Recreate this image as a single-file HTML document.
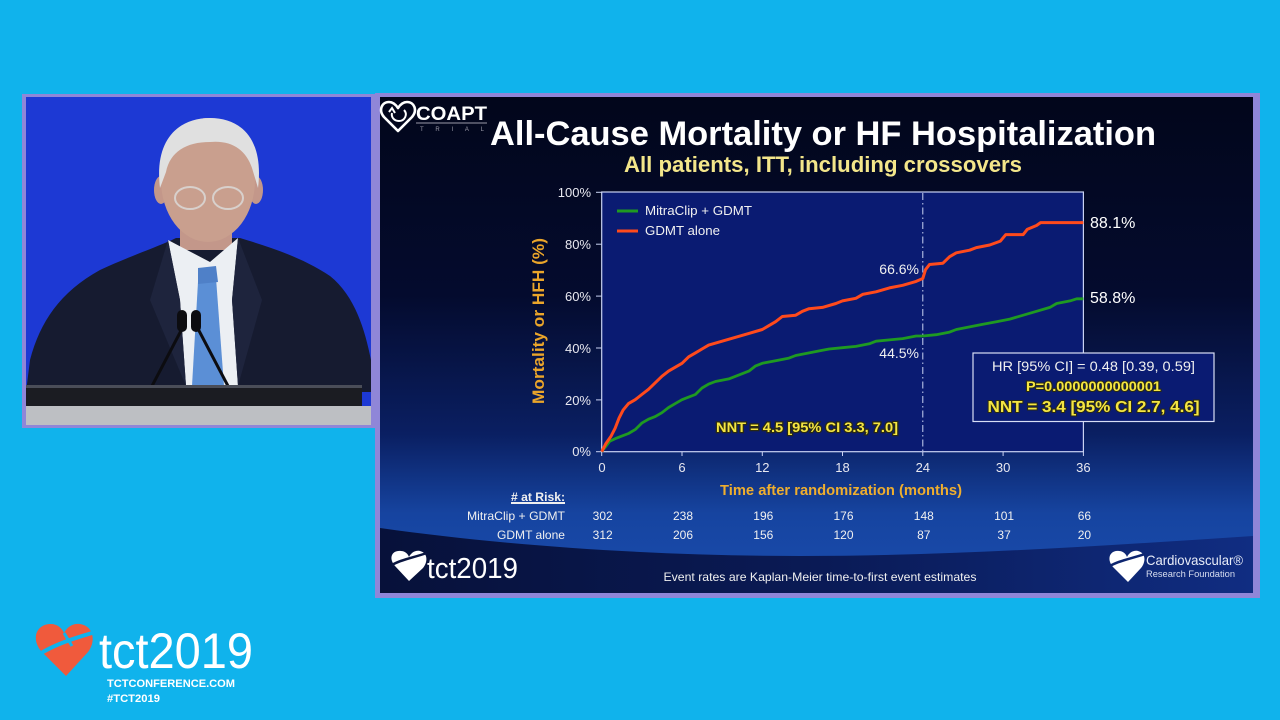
<!DOCTYPE html>
<html><head><meta charset="utf-8">
<style>
html,body{margin:0;padding:0;background:#10b3ec;width:1280px;height:720px;overflow:hidden;}
svg{display:block;}
text{font-family:"Liberation Sans",Arial,sans-serif;}
</style></head><body>
<svg width="1280" height="720" viewBox="0 0 1280 720" xmlns="http://www.w3.org/2000/svg">
<defs>
 <linearGradient id="slbg" x1="0" y1="97" x2="0" y2="593" gradientUnits="userSpaceOnUse">
  <stop offset="0" stop-color="#02061b"/>
  <stop offset="0.4" stop-color="#040b2e"/>
  <stop offset="0.68" stop-color="#0a1f62"/>
  <stop offset="0.84" stop-color="#1644a0"/>
  <stop offset="1" stop-color="#1a4cae"/>
 </linearGradient>
 <linearGradient id="band" x1="380" y1="0" x2="1253" y2="0" gradientUnits="userSpaceOnUse">
  <stop offset="0" stop-color="#07113a"/>
  <stop offset="0.5" stop-color="#0a1a55"/>
  <stop offset="1" stop-color="#102d82"/>
 </linearGradient>
 <clipPath id="vid"><rect x="26" y="97" width="345" height="328"/></clipPath>
</defs>

<!-- background -->
<rect x="0" y="0" width="1280" height="720" fill="#10b3ec"/>

<!-- video frame -->
<rect x="22" y="94" width="354" height="334" fill="#8f86d8"/>
<g clip-path="url(#vid)">
 <rect x="26" y="97" width="345" height="328" fill="#1d39d4"/>
 <!-- suit -->
 <path d="M26,392 L30,360 C40,322 60,292 100,270 C130,256 160,246 176,238 L240,238 C266,246 300,256 330,276 C355,296 365,330 371,360 L371,392 Z" fill="#161b30"/>
 <!-- neck -->
 <rect x="180" y="215" width="52" height="35" fill="#c3978a"/>
 <!-- shirt -->
 <path d="M168,240 L180,300 L186,386 L238,386 L232,300 L238,238 L210,262 Z" fill="#eceff3"/>
 <!-- tie -->
 <path d="M198,282 L216,278 L224,386 L192,386 Z" fill="#5b8fd6"/>
 <path d="M198,268 L216,266 L218,282 L198,284 Z" fill="#4f80c8"/>
 <!-- lapels -->
 <path d="M168,240 L150,300 L186,386 L180,300 Z" fill="#1e243d"/>
 <path d="M238,238 L262,300 L238,386 L232,300 Z" fill="#1e243d"/>
 <!-- head -->
 <ellipse cx="161" cy="190" rx="7" ry="14" fill="#c3978a"/>
 <ellipse cx="256" cy="190" rx="7" ry="14" fill="#c3978a"/>
 <ellipse cx="208" cy="180" rx="47" ry="62" fill="#c99f8e"/>
 <path d="M160,188 C154,140 178,118 210,118 C242,118 264,140 258,188 L252,168 C246,150 232,140 210,142 C186,142 170,152 166,172 Z" fill="#e0e0e0"/>
 <ellipse cx="190" cy="198" rx="15" ry="11" fill="none" stroke="#d8d0cc" stroke-width="2"/>
 <ellipse cx="228" cy="198" rx="15" ry="11" fill="none" stroke="#d8d0cc" stroke-width="2"/>
 <!-- mics -->
 <path d="M184,325 L152,386" stroke="#0c0c10" stroke-width="3" fill="none"/>
 <path d="M196,325 L228,386" stroke="#0c0c10" stroke-width="3" fill="none"/>
 <rect x="177" y="310" width="10" height="22" rx="5" fill="#0c0c10"/>
 <rect x="191" y="310" width="10" height="22" rx="5" fill="#0c0c10"/>
 <!-- podium -->
 <rect x="26" y="385" width="336" height="22" fill="#1b1c22"/>
 <rect x="26" y="385" width="336" height="3" fill="#4a4d58"/>
 <rect x="26" y="406" width="345" height="19" fill="#bdbfc3"/>
</g>

<!-- slide frame -->
<rect x="375" y="93" width="885" height="505" fill="#8f86d8"/>
<rect x="380" y="97" width="873" height="496" fill="url(#slbg)"/>
<path d="M380,528 C500,545 650,556 800,556 C950,556 1100,546 1253,536 L1253,593 L380,593 Z" fill="url(#band)"/>

<!-- COAPT logo -->
<path d="M398,131 L384,117 C378,110 382,102 389,102 C393,102 396,105 398,108 C400,105 403,102 407,102 C414,102 418,110 412,117 Z" fill="none" stroke="#fff" stroke-width="2.6" stroke-linejoin="round"/>
<path d="M404,110 C408,114 405,121 399,121 C394,121 391,117 392,113" fill="none" stroke="#fff" stroke-width="2"/>
<path d="M389,112 L392,108 L395,113" fill="none" stroke="#fff" stroke-width="2"/>
<text x="416" y="120" font-size="19" font-weight="bold" fill="#fff" textLength="71" lengthAdjust="spacingAndGlyphs">COAPT</text>
<line x1="416" y1="123" x2="487" y2="123" stroke="#9a9aa8" stroke-width="1"/>
<text x="420" y="131" font-size="6" fill="#9a9aa8" textLength="64" lengthAdjust="spacing">TRIAL</text>

<!-- Title -->
<text x="823" y="145" font-size="34" font-weight="bold" fill="#ffffff" text-anchor="middle" textLength="666" lengthAdjust="spacingAndGlyphs">All-Cause Mortality or HF Hospitalization</text>
<text x="823" y="172" font-size="22" font-weight="bold" fill="#f3e68a" text-anchor="middle" textLength="398" lengthAdjust="spacingAndGlyphs">All patients, ITT, including crossovers</text>

<!-- plot area -->
<rect x="601.7" y="192" width="481.7" height="259.7" fill="#0a1b72" stroke="#c9d2f2" stroke-width="1.2"/>
<!-- y ticks -->
<g stroke="#c9d2f2" stroke-width="1">
 <line x1="596" y1="192.3" x2="601.7" y2="192.3"/>
 <line x1="596" y1="244.2" x2="601.7" y2="244.2"/>
 <line x1="596" y1="296.1" x2="601.7" y2="296.1"/>
 <line x1="596" y1="348" x2="601.7" y2="348"/>
 <line x1="596" y1="399.9" x2="601.7" y2="399.9"/>
 <line x1="596" y1="451.7" x2="601.7" y2="451.7"/>
 <line x1="601.7" y1="451.7" x2="601.7" y2="456"/>
 <line x1="682" y1="451.7" x2="682" y2="456"/>
 <line x1="762.3" y1="451.7" x2="762.3" y2="456"/>
 <line x1="842.5" y1="451.7" x2="842.5" y2="456"/>
 <line x1="922.8" y1="451.7" x2="922.8" y2="456"/>
 <line x1="1003.1" y1="451.7" x2="1003.1" y2="456"/>
 <line x1="1083.4" y1="451.7" x2="1083.4" y2="456"/>
</g>
<!-- y labels -->
<g font-size="13" fill="#e8e8f0" text-anchor="end">
 <text x="591" y="197">100%</text>
 <text x="591" y="249">80%</text>
 <text x="591" y="301">60%</text>
 <text x="591" y="353">40%</text>
 <text x="591" y="405">20%</text>
 <text x="591" y="456">0%</text>
</g>
<!-- x labels -->
<g font-size="13" fill="#e8e8f0" text-anchor="middle">
 <text x="602" y="472">0</text>
 <text x="682" y="472">6</text>
 <text x="762.3" y="472">12</text>
 <text x="842.5" y="472">18</text>
 <text x="922.8" y="472">24</text>
 <text x="1003.1" y="472">30</text>
 <text x="1083.4" y="472">36</text>
</g>
<text x="841" y="495" font-size="15" font-weight="bold" fill="#efae2e" text-anchor="middle" textLength="242" lengthAdjust="spacingAndGlyphs">Time after randomization (months)</text>
<text transform="translate(544,321) rotate(-90)" font-size="17" font-weight="bold" fill="#eaa52a" text-anchor="middle" textLength="166" lengthAdjust="spacingAndGlyphs">Mortality or HFH (%)</text>

<!-- dashed line at 24 -->
<line x1="922.8" y1="193" x2="922.8" y2="451" stroke="#c9d2f2" stroke-width="1" stroke-dasharray="7,3,1.5,3"/>

<!-- legend -->
<line x1="617" y1="211" x2="638" y2="211" stroke="#1f9a22" stroke-width="3"/>
<line x1="617" y1="231" x2="638" y2="231" stroke="#ff4a1c" stroke-width="3"/>
<text x="645" y="215" font-size="13" fill="#f0f0f0" textLength="107" lengthAdjust="spacingAndGlyphs">MitraClip + GDMT</text>
<text x="645" y="235" font-size="13" fill="#f0f0f0" textLength="75" lengthAdjust="spacingAndGlyphs">GDMT alone</text>

<!-- curves -->
<polyline fill="none" stroke="#1f9a22" stroke-width="2.8" stroke-linejoin="round" points="601.7,451.7 605.7,446.5 609.7,441.3 615.1,438.7 621.8,436.1 628.5,433.5 635.2,429.6 641.8,423.1 648.5,419.2 655.2,416.6 661.9,412.7 668.6,407.5 675.3,403.6 682,399.7 688.7,397.1 695.4,394.5 702,388 708.7,384.1 715.4,381.5 728.8,378.9 735.5,376.3 742.2,373.7 748.9,371.1 755.6,365.9 762.3,363.3 775.6,360.7 789,358.1 795.7,355.5 809.1,352.9 822.5,350.3 829.2,349 842.5,347.7 855.9,346.4 869.3,343.8 876,341.2 889.4,339.9 902.7,338.6 916.1,336 922.8,336 936.2,334.7 949.6,332.1 956.3,329.5 969.6,326.9 983,324.3 996.4,321.7 1009.8,319.1 1023.2,315.2 1036.5,311.3 1049.9,307.4 1056.6,303.5 1070,300.9 1076.7,298.8 1083.4,298.8"/>
<polyline fill="none" stroke="#ff4a1c" stroke-width="3" stroke-linejoin="round" points="601.7,451.7 605.7,443.9 611.1,436.1 615.1,428.3 619.1,417.9 623.1,410.1 628.5,403.6 635.2,399.7 641.8,394.5 648.5,389.3 655.2,382.8 661.9,376.3 668.6,371.1 675.3,367.2 682,363.3 688.7,356.8 695.4,352.9 702,349 708.7,345.1 722.1,341.2 735.5,337.3 748.9,333.4 762.3,329.5 769,325.6 775.6,321.7 782.3,316.5 795.7,315.2 802.4,311.3 809.1,308.7 822.5,307.4 835.9,303.5 842.5,300.9 855.9,298.3 862.6,294.4 876,291.8 889.4,287.9 902.7,285.3 916.1,281.4 922.8,278.5 925.5,269.7 929.5,264.5 942.9,263.2 949.6,256.7 956.3,252.8 969.6,250.2 976.3,247.6 989.7,245 1000.4,241.1 1005.8,234.6 1023.2,234.6 1027.2,229.4 1036.5,225.5 1040.6,222.6 1083.4,222.6"/>

<!-- annotations -->
<text x="919" y="274" font-size="14" fill="#f0f0f0" text-anchor="end">66.6%</text>
<text x="919" y="358" font-size="14" fill="#f0f0f0" text-anchor="end">44.5%</text>
<text x="1090" y="228" font-size="16" fill="#ffffff">88.1%</text>
<text x="1090" y="303" font-size="16" fill="#ffffff">58.8%</text>

<text x="807" y="432" font-size="14" font-weight="bold" fill="#f5e642" stroke="#2a2a14" stroke-width="2.5" paint-order="stroke" text-anchor="middle" textLength="182" lengthAdjust="spacingAndGlyphs">NNT = 4.5 [95% CI 3.3, 7.0]</text>

<!-- HR box -->
<rect x="973" y="353" width="241" height="68.5" fill="#0a1b72" stroke="#d8def5" stroke-width="1.2"/>
<text x="1093.5" y="371" font-size="13.5" fill="#f0f0f0" text-anchor="middle" textLength="203" lengthAdjust="spacingAndGlyphs">HR [95% CI] = 0.48 [0.39, 0.59]</text>
<text x="1093.5" y="391" font-size="13.5" font-weight="bold" fill="#f5e642" stroke="#2a2a14" stroke-width="2" paint-order="stroke" text-anchor="middle" textLength="135" lengthAdjust="spacingAndGlyphs">P=0.0000000000001</text>
<text x="1093.5" y="412" font-size="16" font-weight="bold" fill="#f5e642" stroke="#2a2a14" stroke-width="2" paint-order="stroke" text-anchor="middle" textLength="212" lengthAdjust="spacingAndGlyphs">NNT = 3.4 [95% CI 2.7, 4.6]</text>

<!-- risk table -->
<text x="565" y="501" font-size="12" font-weight="bold" fill="#f0f0f0" text-anchor="end" text-decoration="underline" textLength="54" lengthAdjust="spacingAndGlyphs"># at Risk:</text>
<line x1="511" y1="503.5" x2="565" y2="503.5" stroke="#f0f0f0" stroke-width="1"/>
<text x="565" y="520" font-size="12" fill="#f0f0f0" text-anchor="end" textLength="98" lengthAdjust="spacingAndGlyphs">MitraClip + GDMT</text>
<text x="565" y="539" font-size="12" fill="#f0f0f0" text-anchor="end" textLength="68" lengthAdjust="spacingAndGlyphs">GDMT alone</text>
<g font-size="12" fill="#f0f0f0" text-anchor="middle">
 <text x="602.7" y="520">302</text>
 <text x="683" y="520">238</text>
 <text x="763.3" y="520">196</text>
 <text x="843.5" y="520">176</text>
 <text x="923.8" y="520">148</text>
 <text x="1004.1" y="520">101</text>
 <text x="1084.4" y="520">66</text>
 <text x="602.7" y="539">312</text>
 <text x="683" y="539">206</text>
 <text x="763.3" y="539">156</text>
 <text x="843.5" y="539">120</text>
 <text x="923.8" y="539">87</text>
 <text x="1004.1" y="539">37</text>
 <text x="1084.4" y="539">20</text>
</g>

<!-- slide footer -->
<path d="M409,581 L395,566 C388,558 392,550 401,551 C405,551 408,554 409,557 C411,553 415,550 420,551 C428,553 428,562 423,568 Z" fill="#ffffff"/>
<path d="M392,565 C400,560 412,558 427,553" stroke="#0a1540" stroke-width="2.5" fill="none"/>
<text x="427" y="578" font-size="29" fill="#ffffff" textLength="91" lengthAdjust="spacingAndGlyphs">tct2019</text>
<text x="820" y="581" font-size="12" fill="#f0f0f0" text-anchor="middle" textLength="313" lengthAdjust="spacingAndGlyphs">Event rates are Kaplan-Meier time-to-first event estimates</text>
<path d="M1128,582 L1113,567 C1106,559 1110,550 1119,551 C1123,551 1126,554 1127,557 C1129,553 1133,550 1138,551 C1146,553 1146,562 1141,568 Z" fill="#ffffff"/>
<path d="M1110,566 C1118,561 1130,559 1145,554" stroke="#0e2670" stroke-width="2.5" fill="none"/>
<text x="1146" y="565" font-size="14" fill="#e8ecf8" textLength="97" lengthAdjust="spacingAndGlyphs">Cardiovascular®</text>
<text x="1146" y="577" font-size="9" fill="#d8def0" textLength="89" lengthAdjust="spacingAndGlyphs">Research Foundation</text>

<!-- bottom-left tct logo -->
<path d="M66,676 L41,651 C31,639 36,624 51,624 C57,624 62,628 64,633 C67,627 73,623 80,624 C94,626 96,642 88,652 Z" fill="#f05a3c"/>
<path d="M38,655 C52,646 68,640 92,633" stroke="#10b3ec" stroke-width="4" fill="none"/>
<path d="M64,633 L72,646" stroke="#10b3ec" stroke-width="3" fill="none"/>
<text x="99" y="668" font-size="50" fill="#ffffff" textLength="154" lengthAdjust="spacingAndGlyphs">tct2019</text>
<text x="107" y="687" font-size="11" font-weight="bold" fill="#ffffff" textLength="128" lengthAdjust="spacingAndGlyphs">TCTCONFERENCE.COM</text>
<text x="107" y="702" font-size="11" font-weight="bold" fill="#ffffff" textLength="53" lengthAdjust="spacingAndGlyphs">#TCT2019</text>
</svg>
</body></html>
